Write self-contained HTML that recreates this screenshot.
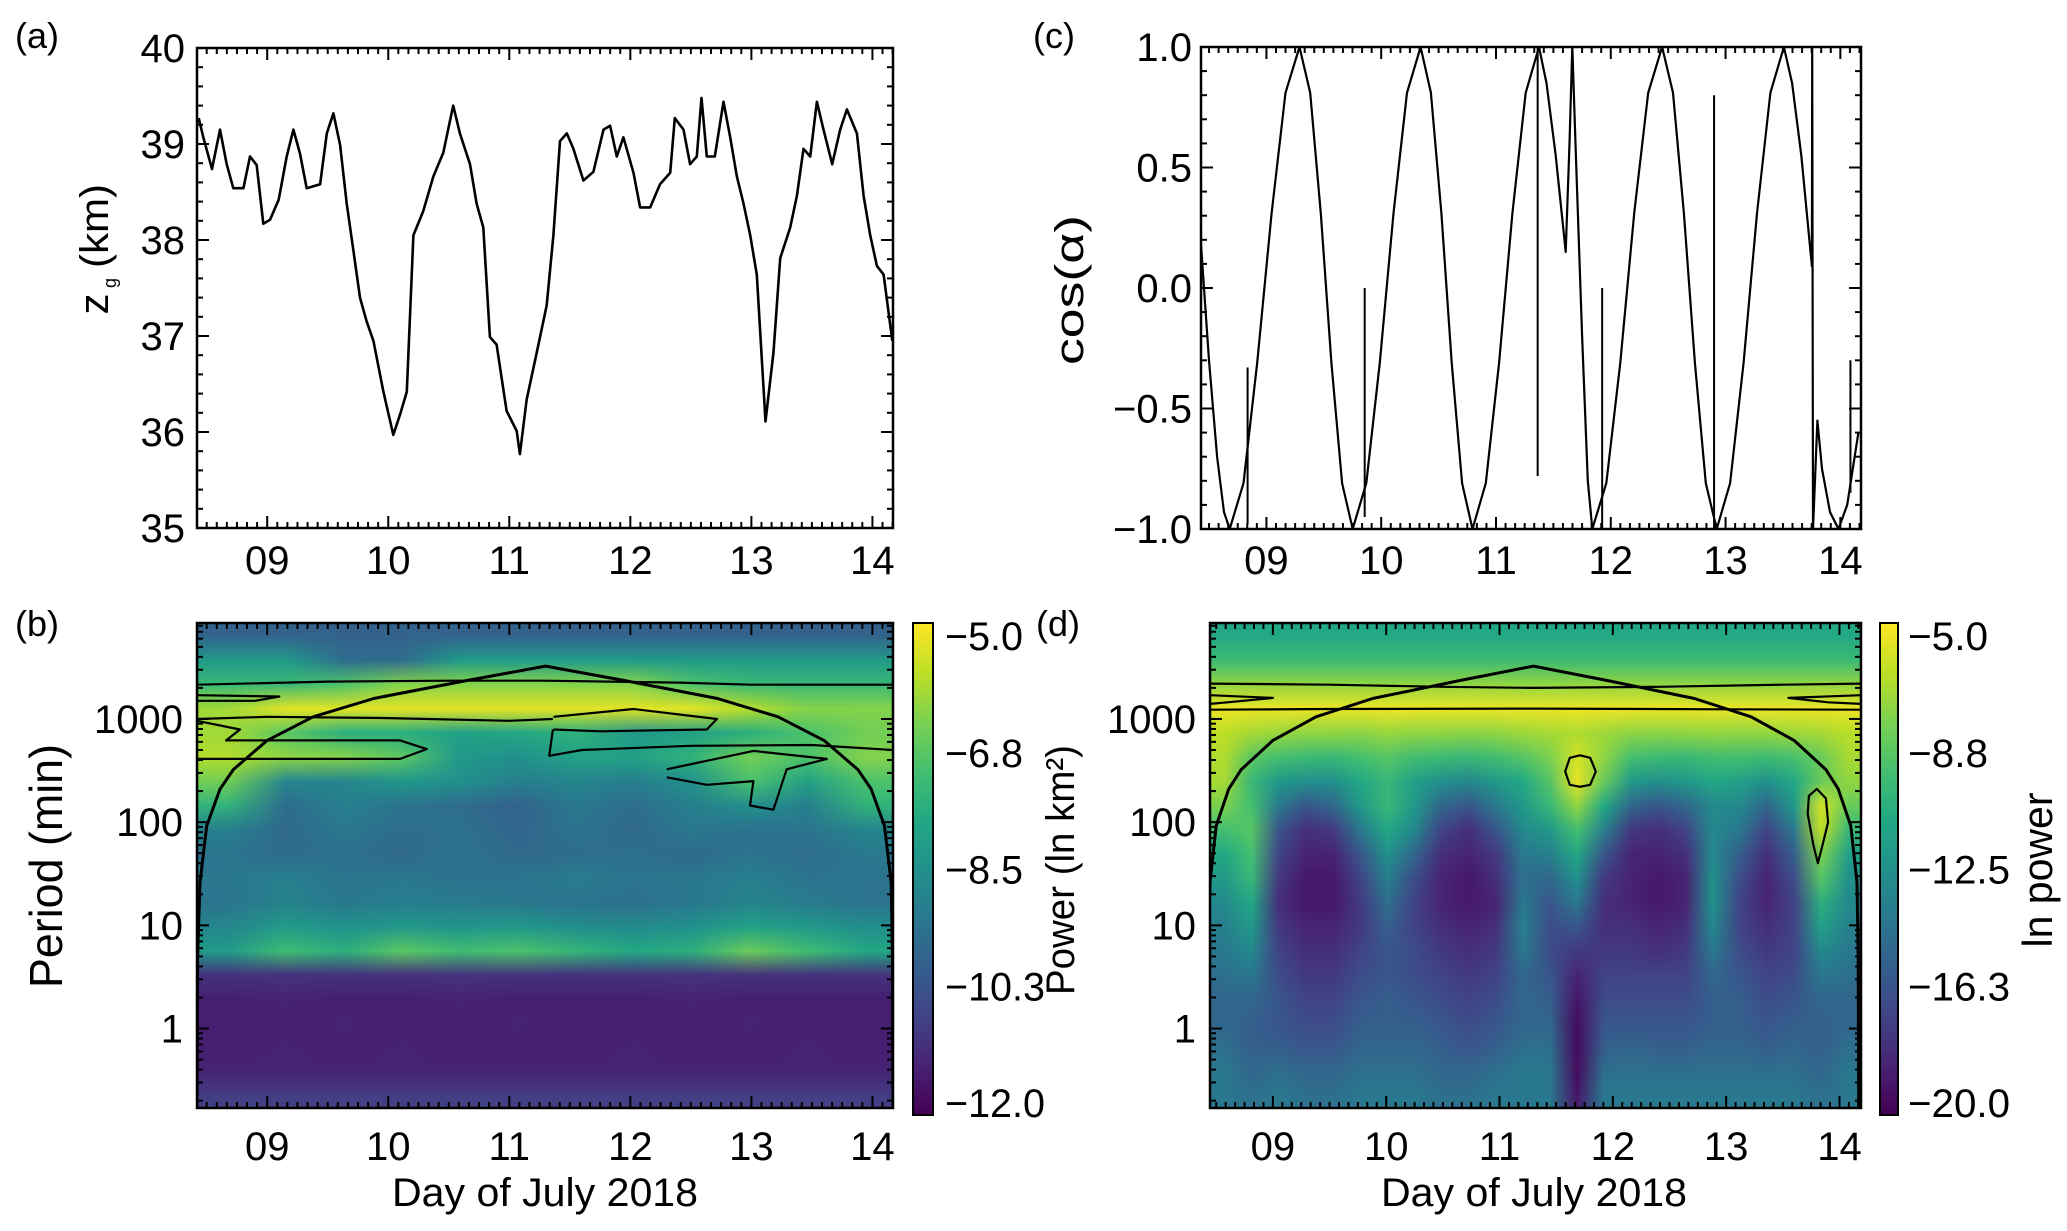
<!DOCTYPE html>
<html><head><meta charset="utf-8">
<style>
html,body{margin:0;padding:0;background:#fff;}
#wrap{position:relative;width:2067px;height:1231px;overflow:hidden;font-family:"Liberation Sans",sans-serif;}
canvas{position:absolute;image-rendering:auto;}
svg{position:absolute;left:0;top:0;}
text{font-family:"Liberation Sans",sans-serif;fill:#000;}
</style></head>
<body>
<div id="wrap">
<canvas id="hb" width="12" height="20" style="left:197px;top:623px;width:696px;height:485px"></canvas>
<canvas id="hd" width="24" height="20" style="left:1210px;top:623px;width:651px;height:485px"></canvas>
<canvas id="cbb" width="1" height="256" style="left:913px;top:623px;width:20px;height:492px"></canvas>
<canvas id="cbd" width="1" height="256" style="left:1880px;top:623px;width:18px;height:492px"></canvas>
<svg id="s" width="2067" height="1231" viewBox="0 0 2067 1231"></svg>
</div>
<script>
// ---------- data ----------
const zDays=[8.434,8.472,8.544,8.610,8.665,8.720,8.803,8.858,8.913,8.968,9.023,9.095,9.161,9.216,9.271,9.326,9.437,9.492,9.547,9.602,9.657,9.712,9.767,9.822,9.877,9.960,10.042,10.097,10.153,10.208,10.289,10.372,10.455,10.537,10.592,10.675,10.730,10.785,10.840,10.895,10.978,11.061,11.088,11.144,11.227,11.309,11.364,11.419,11.475,11.530,11.612,11.695,11.778,11.833,11.888,11.943,12.026,12.081,12.164,12.245,12.329,12.367,12.439,12.494,12.549,12.588,12.632,12.698,12.770,12.825,12.880,12.935,12.990,13.045,13.117,13.183,13.238,13.321,13.376,13.431,13.486,13.541,13.596,13.668,13.734,13.789,13.872,13.927,13.982,14.037,14.092,14.164];
const zValues=[39.27,39.07,38.74,39.15,38.79,38.54,38.54,38.87,38.78,38.17,38.21,38.42,38.87,39.15,38.9,38.54,38.58,39.11,39.32,38.99,38.38,37.89,37.40,37.15,36.95,36.42,35.97,36.18,36.42,38.05,38.30,38.66,38.91,39.40,39.11,38.79,38.38,38.13,36.99,36.91,36.22,36.01,35.77,36.34,36.83,37.32,38.05,39.03,39.11,38.95,38.62,38.71,39.15,39.19,38.87,39.07,38.70,38.34,38.34,38.58,38.70,39.27,39.15,38.79,38.87,39.48,38.87,38.87,39.44,39.07,38.66,38.38,38.05,37.64,36.11,36.83,37.81,38.13,38.46,38.95,38.87,39.44,39.15,38.79,39.15,39.36,39.11,38.46,38.05,37.73,37.64,36.95];

const cosDays=[8.43,8.50,8.57,8.63,8.68,8.80,8.92,9.045,9.166,9.288,9.381,9.474,9.566,9.659,9.752,9.870,9.988,10.107,10.225,10.343,10.433,10.524,10.614,10.705,10.795,10.911,11.027,11.143,11.259,11.375,11.44,11.52,11.607,11.64,11.665,11.70,11.75,11.80,11.839,11.961,12.083,12.204,12.326,12.447,12.542,12.637,12.733,12.828,12.923,13.04,13.157,13.274,13.391,13.508,13.58,13.66,13.752,13.755,13.762,13.80,13.84,13.91,13.984,14.06,14.157];
const cosValues=[0.18,-0.3,-0.7,-0.93,-1,-0.81,-0.31,0.31,0.81,1,0.81,0.31,-0.31,-0.81,-1,-0.81,-0.31,0.31,0.81,1,0.81,0.31,-0.31,-0.81,-1,-0.81,-0.31,0.31,0.81,1,0.85,0.55,0.15,0.6,1,0.5,-0.2,-0.8,-1,-0.81,-0.31,0.31,0.81,1,0.81,0.31,-0.31,-0.81,-1,-0.81,-0.31,0.31,0.81,1,0.85,0.55,0.09,1.0,-1.0,-0.55,-0.75,-0.93,-1,-0.9,-0.6];
const spikeDays=[8.836,9.856,11.363,11.925,12.90,14.088];
const spikeLo=[-0.98,-0.95,-0.78,-1,-1,-0.85];
const spikeHi=[-0.33,0.0,1.0,0.0,0.8,-0.3];

const coiDays=[8.42,8.425,8.445,8.50,8.61,8.72,9.0,9.38,9.88,10.65,11.30,11.95,12.72,13.22,13.60,13.88,13.99,14.10,14.155,14.165,14.17];
const coiPeriods=[0.17,5,26,92,209,323,620,1050,1580,2360,3250,2360,1580,1050,620,323,209,92,26,5,0.17];

const powerB=[
[-9.8,-9.8,-9.8,-9.8,-9.8,-9.8,-9.8,-9.8,-9.8,-9.8,-9.8,-9.8],
[-8.2,-8.2,-9.5,-9.5,-8.2,-8.2,-8.2,-8.2,-8.2,-8.2,-8.2,-8.2],
[-7.3,-7.3,-7.0,-6.3,-6.3,-6.3,-6.3,-6.3,-7.0,-7.3,-7.3,-7.3],
[-6.0,-5.3,-5.3,-5.3,-5.3,-5.3,-5.3,-5.3,-5.3,-5.8,-6.3,-6.3],
[-6.0,-6.8,-7.6,-7.6,-8.0,-7.8,-7.5,-8.3,-8.0,-7.6,-7.0,-6.5],
[-5.8,-6.2,-6.3,-6.8,-8.3,-8.5,-8.0,-8.0,-7.5,-6.5,-7.0,-6.3],
[-6.5,-8.8,-8.8,-8.3,-8.5,-9.0,-8.8,-9.0,-8.5,-7.0,-8.0,-7.0],
[-7.5,-9.5,-9.0,-9.3,-9.5,-9.8,-9.2,-9.5,-9.0,-8.5,-9.0,-7.5],
[-9.0,-9.6,-9.2,-9.5,-9.4,-9.7,-9.3,-9.6,-9.2,-9.4,-9.3,-8.8],
[-9.3,-9.5,-9.4,-9.6,-9.3,-9.6,-9.5,-9.4,-9.6,-9.3,-9.5,-9.2],
[-9.2,-9.0,-9.3,-9.2,-9.4,-9.3,-9.1,-9.3,-9.2,-9.0,-9.3,-9.3],
[-9.3,-8.9,-9.2,-9.0,-9.1,-9.2,-9.3,-9.4,-9.2,-8.9,-9.1,-9.3],
[-8.8,-8.2,-8.5,-8.3,-8.4,-8.3,-8.6,-8.7,-8.5,-8.0,-8.3,-8.6],
[-8.2,-7.2,-7.6,-6.8,-7.2,-7.0,-7.4,-7.8,-7.6,-6.6,-7.2,-7.8],
[-11.0,-11.0,-11.0,-11.0,-11.0,-11.0,-11.0,-11.0,-11.0,-11.0,-11.0,-11.0],
[-11.4,-11.3,-11.4,-11.4,-11.3,-11.4,-11.4,-11.4,-11.3,-11.4,-11.4,-11.4],
[-11.4,-11.4,-11.3,-11.4,-11.4,-11.3,-11.4,-11.4,-11.4,-11.3,-11.4,-11.4],
[-11.4,-11.3,-11.4,-11.3,-11.4,-11.4,-11.4,-11.3,-11.4,-11.4,-11.3,-11.4],
[-11.3,-11.3,-11.3,-11.3,-11.3,-11.3,-11.3,-11.3,-11.3,-11.3,-11.3,-11.3],
[-10.7,-10.7,-10.7,-10.7,-10.7,-10.7,-10.7,-10.7,-10.7,-10.7,-10.7,-10.7]];

const powerD=[
[-11,-11,-11,-11,-11,-11,-11,-11,-11,-11,-11,-11,-11,-11,-11,-11,-11,-11,-11,-11,-11,-11,-11,-11],
[-9.8,-9.8,-9.8,-9.8,-9.8,-9.8,-9.8,-9.8,-9.8,-9.8,-9.8,-9.8,-9.8,-9.8,-9.8,-9.8,-9.8,-9.8,-9.8,-9.8,-9.8,-9.8,-9.8,-9.8],
[-7.5,-7.5,-7.5,-7.5,-7.5,-7.5,-7.5,-7.5,-7.5,-7.5,-7.5,-7.5,-7.5,-7.5,-7.5,-7.5,-7.5,-7.5,-7.5,-7.5,-7.5,-7.5,-7.5,-7.5],
[-5.4,-5.4,-5.4,-5.4,-5.4,-5.4,-5.4,-5.4,-5.4,-5.4,-5.4,-5.4,-5.4,-5.4,-5.4,-5.4,-5.4,-5.4,-5.4,-5.4,-5.4,-5.4,-5.4,-5.4],
[-6.5,-7,-7.3,-7.5,-7.5,-7.6,-7.3,-7.5,-7.5,-7.6,-7.5,-7.2,-7.0,-6.8,-7.2,-7.5,-7.6,-7.5,-7.4,-7.5,-7.4,-7.2,-7.0,-6.6],
[-6.8,-8.8,-9.5,-9.8,-10,-9.5,-9,-9.6,-9.8,-10,-9.6,-9,-8,-6,-7.5,-9.5,-9.8,-10,-9.6,-9.5,-9.8,-9.4,-8.5,-7],
[-7,-10,-12,-12.5,-12.5,-11,-10,-11.5,-12.5,-13,-12,-11,-9,-5.5,-8.5,-12,-12.5,-12,-11,-11.5,-12.5,-11,-8.5,-7.5],
[-8,-9.5,-14,-16,-15,-12,-10,-12,-15,-16,-14,-12,-10,-7.5,-11,-15,-16,-15,-13,-13,-15,-12,-6,-8.5],
[-9.5,-9,-16,-18,-17.5,-14,-11,-13,-17,-18,-16,-13,-12,-9.5,-13.5,-17.5,-18,-17,-13,-14,-17,-14,-6.5,-10],
[-11,-9.5,-17,-18.5,-18.5,-16,-12.5,-15,-18,-18.5,-17.5,-14,-13.5,-11,-16,-18.5,-18.5,-18,-13,-15.5,-18,-15.5,-8,-11.5],
[-12,-10,-17.5,-19,-19,-17,-13.5,-16.5,-18.5,-19,-18,-14.5,-15,-12.5,-17.5,-18.5,-19,-18.5,-12.5,-16.5,-18.5,-16.5,-9,-12.5],
[-13,-11,-18,-19,-19,-17.5,-14.5,-17,-18.5,-19,-18.5,-14,-16,-14,-18,-18.5,-19,-18.5,-12.5,-17,-18.5,-17,-10.5,-13],
[-13.5,-12,-17.5,-18.5,-18.5,-17.5,-15.5,-17,-18,-18.5,-18,-13.5,-16.5,-16,-18,-18,-18.5,-18,-13,-17,-18,-17,-11.5,-13.5],
[-14,-13,-17,-18,-18,-17,-16,-16.5,-17.5,-18,-17.5,-14,-16.5,-17.5,-17.5,-17.5,-18,-17.5,-14,-16.5,-17.5,-17,-13,-14],
[-14.5,-14,-16.5,-17.5,-17.5,-16.5,-16,-16.5,-17,-17.5,-17,-15,-16,-18.5,-17,-17,-17,-17,-15,-16,-17,-16.5,-14,-14.5],
[-15,-15,-16,-17,-17,-16,-15.5,-16,-16.5,-17,-16.5,-15,-15.5,-19,-16.5,-16.5,-16.5,-16.5,-15.5,-15.5,-16.5,-16,-15,-15],
[-15,-15.5,-16,-16.5,-16.5,-15.5,-15.5,-15.5,-16,-16.5,-16,-15,-15,-19.5,-16,-16,-16,-16,-15.5,-15.5,-16,-15.5,-15.5,-15],
[-14.5,-15.5,-15.5,-16,-16,-15,-15,-15,-15.5,-16,-15.5,-14.5,-14.5,-19.5,-15.5,-15,-15.5,-15.5,-15,-15,-15.5,-15,-15.5,-14.5],
[-14,-15,-14.5,-15,-15,-14.5,-14.5,-14.5,-15,-15,-14.5,-14,-14,-19.5,-14.5,-14.5,-14.5,-14.5,-14.5,-14.5,-14.5,-14.5,-15,-14],
[-14,-14.5,-14,-14.5,-14.5,-14,-14,-14,-14.5,-14.5,-14,-14,-14,-19,-14,-14,-14,-14,-14,-14,-14,-14,-14.5,-14]];

const bContourDays=[[8.42,9.5,10.5,11.3,12.4,13.0,14.17],[8.42,9.0,10.0,11.0,11.36],[11.365,12.026,12.715,12.632,11.75,11.365],[8.42,8.775,8.66,10.098,10.318,10.098,8.42],[12.301,13.017,13.623,13.292,13.182,12.989,13.017,12.632,12.301],[11.36,11.33,11.6,12.5,13.5,14.17],[8.42,9.1,8.9,8.42]];
const bContourPeriods=[[2150,2300,2350,2350,2250,2150,2150],[1000,1050,1020,960,1000],[1050,1250,1000,790,760,790],[960,790,620,620,510,410,410],[325,490,410,325,132,145,250,230,272],[790,440,500,550,560,500],[1700,1650,1500,1500]];
const dContourDays=[[8.445,9.5,10.5,11.3,12.4,13.5,14.19],[8.445,9.5,11.3,13.0,14.19],[11.58,11.62,11.71,11.80,11.85,11.80,11.71,11.62,11.58],[13.80,13.88,13.90,13.85,13.81,13.77,13.72,13.73,13.80],[8.445,9.0,8.6,8.445],[14.19,13.55,13.9,14.19]];
const dContourPeriods=[[2200,2150,2050,2000,2050,2150,2200],[1230,1250,1260,1240,1230],[310,420,445,420,310,230,220,230,310],[210,170,100,60,40,60,120,180,210],[1700,1600,1450,1400],[1700,1600,1450,1400]];

const dayTicks=[9,10,11,12,13,14];
const dayLabels=["09","10","11","12","13","14"];
const zTicks=[35,36,37,38,39,40];
const cosTicks=[-1,-0.5,0,0.5,1];
const cosLabels=["\u22121.0","\u22120.5","0.0","0.5","1.0"];
const periodTicks=[1,10,100,1000];
const cbLabelsB=["\u22125.0","\u22126.8","\u22128.5","\u221210.3","\u221212.0"];
const cbLabelsD=["\u22125.0","\u22128.8","\u221212.5","\u221216.3","\u221220.0"];

// ---------- helpers ----------
const NS="http://www.w3.org/2000/svg";
const svg=document.getElementById('s');
function mk(tag,attrs,name,parent){
  const e=document.createElementNS(NS,tag);
  for(const k in attrs) e.setAttribute(k,attrs[k]);
  
  
  (parent||svg).appendChild(e);
  return e;
}
function txt(x,y,s,size,anchor,name,rot,len){
  const t=mk('text',{x:x,y:y,'font-size':size,'text-anchor':anchor||'middle'},name);
  if(rot) t.setAttribute('transform','rotate('+rot+' '+x+' '+y+')');
  if(len){t.setAttribute('textLength',len);t.setAttribute('lengthAdjust','spacingAndGlyphs');}
  t.textContent=s;return t;
}
const VIR=[[68,1,84],[72,36,117],[65,68,135],[53,95,141],[42,120,142],[33,145,140],[34,168,132],[68,191,112],[122,209,81],[189,223,38],[253,231,37]];
function vir(t){t=Math.max(0,Math.min(1,t));const f=t*10,i=Math.min(9,Math.floor(f)),r=f-i;const a=VIR[i],b=VIR[i+1];
  return 'rgb('+a.map((v,k)=>Math.round(v+(b[k]-v)*r)).join(',')+')';}

const A={x0:197,x1:893,y0:48,y1:528,d0:8.42,d1:14.17};
const B={x0:197,x1:893,y0:623,y1:1108,d0:8.42,d1:14.17};
const C={x0:1201,x1:1861,y0:47,y1:529,d0:8.43,d1:14.18};
const D={x0:1210,x1:1861,y0:623,y1:1108,d0:8.445,d1:14.19};
const LTOP=3.93,LBOT=-0.77;
const FS=40;
function xs(P,d){return P.x0+(d-P.d0)/(P.d1-P.d0)*(P.x1-P.x0);}
function yLin(P,v,lo,hi){return P.y1-(v-lo)/(hi-lo)*(P.y1-P.y0);}
function yLog(P,p){return P.y0+(LTOP-Math.log10(p))/(LTOP-LBOT)*(P.y1-P.y0);}

// ---------- heatmaps ----------
function heat(id,arr,lo,hi){
  const cv=document.getElementById(id),ctx=cv.getContext('2d');
  for(let r=0;r<arr.length;r++)for(let c=0;c<arr[r].length;c++){
    ctx.fillStyle=vir((arr[r][c]-lo)/(hi-lo));ctx.fillRect(c,r,1,1);}
}
heat('hb',powerB,-12,-5);
heat('hd',powerD,-20,-5);
['cbb','cbd'].forEach(id=>{const cv=document.getElementById(id),ctx=cv.getContext('2d');
  for(let i=0;i<256;i++){ctx.fillStyle=vir(1-i/255);ctx.fillRect(0,i,1,1);}});

// ---------- axes ----------
function frame(P,name){mk('rect',{x:P.x0,y:P.y0,width:P.x1-P.x0,height:P.y1-P.y0,fill:'none',stroke:'#000','stroke-width':2.5},name);}
function dayAxis(P,pre,labelY){
  for(let d=Math.ceil(P.d0*12);d<=P.d1*12;d++){
    const x=xs(P,d/12),maj=d%12===0,L=maj?12:6;
    mk('line',{x1:x,y1:P.y1,x2:x,y2:P.y1-L,stroke:'#000','stroke-width':2},pre+'-x-tick');
    mk('line',{x1:x,y1:P.y0,x2:x,y2:P.y0+L,stroke:'#000','stroke-width':2},pre+'-x-tick-top');
  }
  dayTicks.forEach((d,i)=>txt(xs(P,d),labelY,dayLabels[i],FS,'middle',pre+'-x-tick-label'));
}
function linY(P,lo,hi,minor,pre,majStep){
  const n=Math.round((hi-lo)/minor);
  for(let i=0;i<=n;i++){const v=lo+i*minor;const y=yLin(P,v,lo,hi);
    const maj=Math.abs(v/majStep-Math.round(v/majStep))<1e-6;const L=maj?12:6;
    mk('line',{x1:P.x0,y1:y,x2:P.x0+L,y2:y,stroke:'#000','stroke-width':2},pre+'-y-tick');
    mk('line',{x1:P.x1,y1:y,x2:P.x1-L,y2:y,stroke:'#000','stroke-width':2},pre+'-y-tick-right');}
}
function logY(P,pre,labelX){
  for(let e=-1;e<=3;e++)for(let m=1;m<=9;m++){const p=m*Math.pow(10,e);const lg=Math.log10(p);if(lg<LBOT||lg>LTOP)continue;
    const y=yLog(P,p),L=m===1?12:6;
    mk('line',{x1:P.x0,y1:y,x2:P.x0+L,y2:y,stroke:'#000','stroke-width':2},pre+'-y-tick');
    mk('line',{x1:P.x1,y1:y,x2:P.x1-L,y2:y,stroke:'#000','stroke-width':2},pre+'-y-tick-right');}
  periodTicks.forEach(p=>txt(labelX,yLog(P,p)+14,String(p),FS,'end',pre+'-y-tick-label'));
}
function poly(P,days,vals,yf,name,w,closed){
  const pts=days.map((d,i)=>xs(P,d).toFixed(1)+','+yf(vals[i]).toFixed(1)).join(' ');
  return mk(closed?'polygon':'polyline',{points:pts,fill:'none',stroke:'#000','stroke-width':w,'stroke-linejoin':'round','clip-path':'url(#clip'+name.charAt(0)+')'},name);
}
const defs=mk('defs',{},'defs');
[['a',A],['b',B],['c',C],['d',D]].forEach(([k,P])=>{const cp=mk('clipPath',{id:'clip'+k},'clip-'+k,defs);mk('rect',{x:P.x0,y:P.y0,width:P.x1-P.x0,height:P.y1-P.y0},'clip-rect-'+k,cp);});

// Panel a
poly(A,zDays,zValues,v=>yLin(A,v,35,40),'a-zg-line',2.6);
linY(A,35,40,0.2,'a',1);
zTicks.forEach(v=>txt(185,yLin(A,v,35,40)+14,String(v),FS,'end','a-y-tick-label'));
dayAxis(A,'a',574);frame(A,'a-plot-frame');
txt(108,304,'z',42,'middle','a-y-axis-title',-90);
txt(116,283,'g',18,'middle','a-y-axis-subscript',-90);
txt(108,226,'(km)',40,'middle','a-y-axis-units',-90,84);
txt(15,48,'(a)',36,'start','panel-label-a');

// Panel c
poly(C,cosDays,cosValues,v=>yLin(C,v,-1,1),'c-cos-line',2.2);
spikeDays.forEach((d,i)=>mk('line',{x1:xs(C,d),x2:xs(C,d),y1:yLin(C,spikeLo[i],-1,1),y2:yLin(C,spikeHi[i],-1,1),stroke:'#000','stroke-width':2},'c-spike'));
linY(C,-1,1,0.1,'c',0.5);
cosTicks.forEach((v,i)=>txt(1192,yLin(C,v,-1,1)+14,cosLabels[i],FS,'end','c-y-tick-label'));
dayAxis(C,'c',574);frame(C,'c-plot-frame');
txt(1083,290,'cos(\u03b1)',40,'middle','c-y-axis-title',-90,150);
txt(1033,48,'(c)',36,'start','panel-label-c');

// Panel b
bContourDays.forEach((ds,i)=>poly(B,ds,bContourPeriods[i],p=>yLog(B,p),'b-contour',2.2));
poly(B,coiDays,coiPeriods,p=>yLog(B,p),'b-cone-of-influence',3);
logY(B,'b',183);dayAxis(B,'b',1160);frame(B,'b-plot-frame');
txt(545,1206,'Day of July 2018',40,'middle','b-x-axis-title',0,306);
txt(62,866,'Period (min)',46,'middle','b-y-axis-title',-90,244);
txt(15,636,'(b)',36,'start','panel-label-b');
mk('rect',{x:913,y:623,width:20,height:492,fill:'none',stroke:'#000','stroke-width':2},'colorbar-b-frame');
cbLabelsB.forEach((s,i)=>txt(945,636+i*116.8+14,s,FS,'start','colorbar-b-label',0,s.length>4?100:78));
txt(1074,870,'Power (ln km\u00b2)',40,'middle','colorbar-b-title',-90,250);

// Panel d
dContourDays.forEach((ds,i)=>poly(D,ds,dContourPeriods[i],p=>yLog(D,p),'d-contour',2.2,i>=2));
poly(D,coiDays,coiPeriods,p=>yLog(D,p),'d-cone-of-influence',3);
logY(D,'d',1196);dayAxis(D,'d',1160);frame(D,'d-plot-frame');
txt(1534,1206,'Day of July 2018',40,'middle','d-x-axis-title',0,306);
txt(1036,636,'(d)',36,'start','panel-label-d');
mk('rect',{x:1880,y:623,width:18,height:492,fill:'none',stroke:'#000','stroke-width':2},'colorbar-d-frame');
cbLabelsD.forEach((s,i)=>txt(1908,636+i*116.8+14,s,FS,'start','colorbar-d-label',0,s.length>4?102:80));
txt(2052,870,'ln power',42,'middle','colorbar-d-title',-90,155);
</script>
</body></html>
